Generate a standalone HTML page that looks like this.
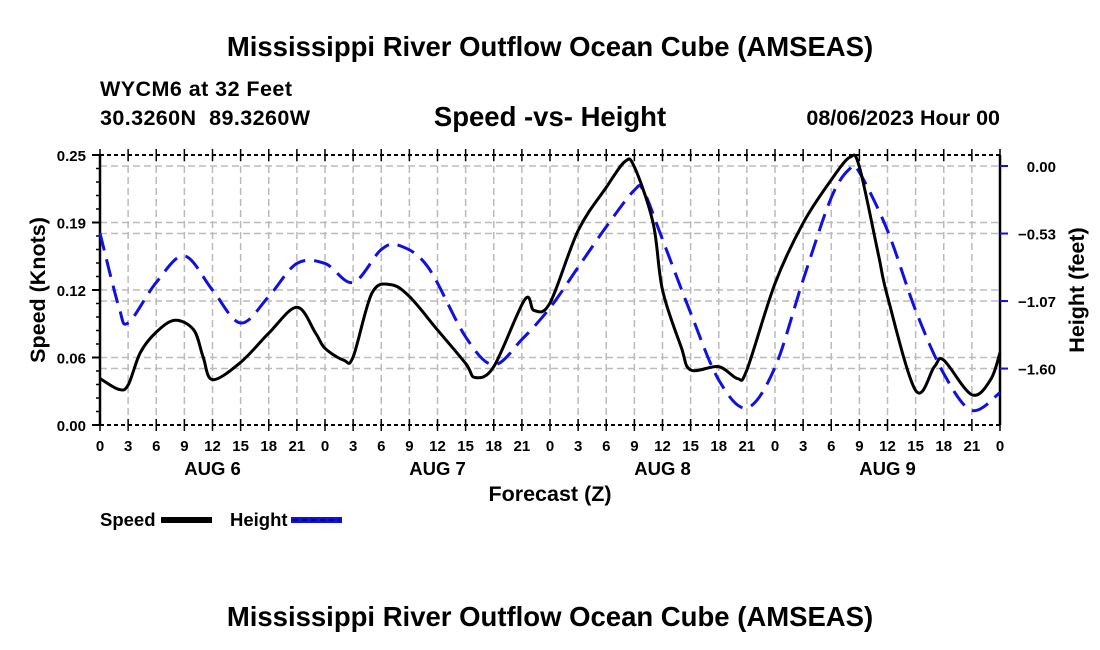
<!DOCTYPE html>
<html><head><meta charset="utf-8"><style>
body{margin:0;background:#fff;}
svg{display:block;font-family:"Liberation Sans",Arial,sans-serif;font-weight:bold;}
</style></head><body>
<svg id="chart" width="1100" height="650" viewBox="0 0 1100 650">
<text x="550" y="56" font-size="27.5" text-anchor="middle">Mississippi River Outflow Ocean Cube (AMSEAS)</text>
<text x="100" y="96" font-size="21.5" textLength="192">WYCM6 at 32 Feet</text>
<text x="100" y="125" font-size="21.5" textLength="210">30.3260N&#160;&#160;89.3260W</text>
<text x="550" y="126" font-size="27.5" text-anchor="middle">Speed -vs- Height</text>
<text x="1000" y="125" font-size="21.5" text-anchor="end">08/06/2023 Hour 00</text>
<g id="grid"></g>
<g id="axes"></g>
<g id="series"></g>
<text transform="translate(45,290) rotate(-90)" font-size="21.5" text-anchor="middle">Speed (Knots)</text>
<text transform="translate(1084,290) rotate(-90)" font-size="21.5" text-anchor="middle">Height (feet)</text>
<text x="550" y="501" font-size="21.5" text-anchor="middle">Forecast (Z)</text>
<g>
<text x="100" y="526" font-size="18.5">Speed</text>
<rect x="161" y="517" width="51" height="6" fill="#000"/>
<text x="230" y="526" font-size="18.5">Height</text>
<rect x="291" y="517" width="51" height="6" fill="#1010e0"/>
<line x1="293" y1="520" x2="340" y2="520" stroke="#000" stroke-width="1" stroke-dasharray="5,4"/>
</g>
<text x="550" y="626" font-size="27.5" text-anchor="middle">Mississippi River Outflow Ocean Cube (AMSEAS)</text>
</svg>
<script>
const speedHours=[0,2,3,4.3,6,8,10,11,12,15,18,21,23,24,26,27,29,31,33,36,39,40,42,45.3,46.3,48,51,54,56,57,59,60,62,63,66,68,69,72,75,78,80,81,83,84,87,89,90,93,95,96];
const speedVals=[0.043,0.033,0.037,0.067,0.086,0.097,0.088,0.063,0.042,0.058,0.085,0.109,0.085,0.071,0.060,0.063,0.122,0.130,0.119,0.088,0.057,0.044,0.054,0.116,0.106,0.113,0.180,0.220,0.244,0.239,0.187,0.125,0.072,0.051,0.054,0.043,0.051,0.131,0.187,0.227,0.248,0.239,0.159,0.119,0.032,0.054,0.060,0.028,0.042,0.067];
const heightHours=[0,2,3,6,9,12,15,18,21,24,27,30,32,35,39,42,45,48,51,54,57,58,60,63,66,69,72,75,78,80,81,84,87,90,93,96];
const heightVals=[-0.53,-1.11,-1.24,-0.92,-0.71,-0.98,-1.24,-1.03,-0.77,-0.77,-0.92,-0.66,-0.63,-0.80,-1.35,-1.57,-1.37,-1.12,-0.80,-0.48,-0.19,-0.20,-0.58,-1.16,-1.69,-1.91,-1.59,-0.90,-0.25,-0.02,-0.05,-0.51,-1.14,-1.64,-1.93,-1.79];
const speedTicks=[0,0.0625,0.125,0.1875,0.25];
const speedTickLabels=["0.00","0.06","0.12","0.19","0.25"];
const heightTicks=[0,-0.5333,-1.0667,-1.6];
const heightTickLabels=["0.00","\u22120.53","\u22121.07","\u22121.60"];
const dayLabels=["AUG 6","AUG 7","AUG 8","AUG 9"];

const X0=100,X1=1000,Y0=425,Y1=155;
const xs=h=>X0+(X1-X0)*h/96;
const ys=v=>Y0-(Y0-Y1)*v/0.25;
const yh=v=>166-v*126.6;
const NS="http://www.w3.org/2000/svg";
function mk(tag,attrs,parent){const e=document.createElementNS(NS,tag);for(const k in attrs)e.setAttribute(k,attrs[k]);parent.appendChild(e);return e;}
const grid=document.getElementById('grid'),axes=document.getElementById('axes'),ser=document.getElementById('series');

for(let h=3;h<96;h+=3){
  const l=mk('line',{x1:xs(h),x2:xs(h),y1:Y1,y2:Y0,stroke:'#bbb','stroke-width':1.5,'stroke-dasharray':'7,4'},grid);
  
  
}
speedTicks.slice(1,4).forEach(v=>{
  const l=mk('line',{x1:X0,x2:X1,y1:ys(v),y2:ys(v),stroke:'#bbb','stroke-width':1.5,'stroke-dasharray':'7,4'},grid);
  
  
});
heightTicks.forEach(v=>{
  const l=mk('line',{x1:X0,x2:X1,y1:yh(v),y2:yh(v),stroke:'#bbb','stroke-width':1.5,'stroke-dasharray':'7,4'},grid);
  
  
});

[[X0,Y0,X1,Y0],[X0,Y1,X1,Y1]].forEach(c=>{
  const l=mk('line',{x1:c[0],y1:c[1],x2:c[2],y2:c[3],stroke:'#000','stroke-width':2,'stroke-dasharray':'4,3'},axes);
  
  
});
[[X0,Y1,X0,Y0],[X1,Y1,X1,Y0]].forEach(c=>{
  const l=mk('line',{x1:c[0],y1:c[1],x2:c[2],y2:c[3],stroke:'#000','stroke-width':2.5},axes);
  
  
});
for(let h=0;h<=96;h+=3){
  const lab=(h%24).toString();
  [Y0,Y1].forEach(y=>{
    const t=mk('line',{x1:xs(h),x2:xs(h),y1:y-6,y2:y+6,stroke:'#000','stroke-width':1.5},axes);
    
    
  });
  const tx=mk('text',{x:xs(h),y:451,'font-size':15,'text-anchor':'middle'},axes);
  tx.textContent=lab;
  
  
}
dayLabels.forEach((d,i)=>{
  const t=mk('text',{x:xs(12+24*i),y:475,'font-size':18.5,'text-anchor':'middle'},axes);
  t.textContent=d;
  
  
});
for(let v=0;v<=0.25001;v+=0.0125){
  const t=mk('line',{x1:X0-4,x2:X0,y1:ys(v),y2:ys(v),stroke:'#000','stroke-width':1.5},axes);
  
  
}
speedTicks.forEach((v,i)=>{
  const t=mk('line',{x1:X0-8,x2:X0,y1:ys(v),y2:ys(v),stroke:'#000','stroke-width':2},axes);
  
  
  const tx=mk('text',{x:86,y:ys(v)+6,'font-size':15,'text-anchor':'end'},axes);
  tx.textContent=speedTickLabels[i];
  
  
});
heightTicks.forEach((v,i)=>{
  const t=mk('line',{x1:X1,x2:X1+8,y1:yh(v),y2:yh(v),stroke:'#1010e0','stroke-width':2},axes);
  
  
  const tx=mk('text',{x:1056,y:yh(v)+6,'font-size':15,'text-anchor':'end'},axes);
  tx.textContent=heightTickLabels[i];
  
  
});

function smooth(pts){
  let d='M'+pts[0][0]+','+pts[0][1];
  for(let i=0;i<pts.length-1;i++){
    const p0=pts[i-1]||pts[i],p1=pts[i],p2=pts[i+1],p3=pts[i+2]||p2;
    const c1=[p1[0]+(p2[0]-p0[0])/6,p1[1]+(p2[1]-p0[1])/6];
    const c2=[p2[0]-(p3[0]-p1[0])/6,p2[1]-(p3[1]-p1[1])/6];
    d+=' C'+c1[0]+','+c1[1]+' '+c2[0]+','+c2[1]+' '+p2[0]+','+p2[1];
  }
  return d;
}
const hp=mk('path',{d:smooth(heightHours.map((h,i)=>[xs(h),yh(heightVals[i])])),fill:'none',stroke:'#1010e0','stroke-width':3,'stroke-dasharray':'18,9'},ser);


const sp=mk('path',{d:smooth(speedHours.map((h,i)=>[xs(h),ys(speedVals[i])])),fill:'none',stroke:'#000','stroke-width':3},ser);


</script>
</body></html>
